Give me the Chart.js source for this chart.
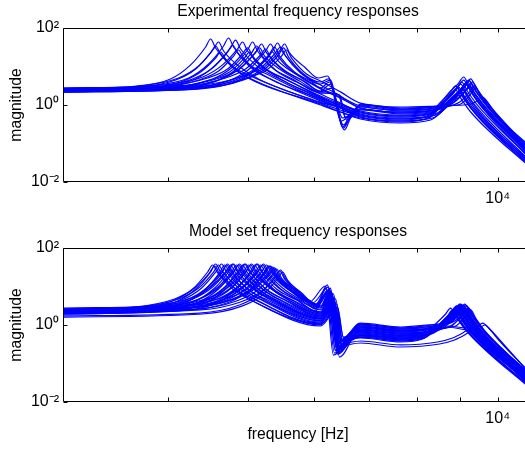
<!DOCTYPE html>
<html><head><meta charset="utf-8">
<script src="https://cdn.jsdelivr.net/npm/chart.js@4.4.0/dist/chart.umd.min.js"></script>
<style>
html,body{margin:0;padding:0;overflow:hidden;background:#fff;width:525px;height:453px;}
#c1{position:absolute;left:0;top:0;}
#c2{position:absolute;left:0;top:220px;}
</style></head><body>
<canvas id="c1" width="532" height="220"></canvas>
<canvas id="c2" width="532" height="233"></canvas>
<script>
// ---- axis settings / labels ----
const xMin = 3000, xMax = 11000;
const yMin = 0.01, yMax = 100;
const xTickValues = [4000, 5000, 6000, 7000, 8000, 9000, 10000];
const xTickLabels = {10000: '10\u2074'};
const yTickValues = [0.01, 1, 100];
const yTickLabels = {0.01: '10\u207B\u00B2', 1: '10\u2070', 100: '10\u00B2'};
const titleTop = 'Experimental frequency responses';
const titleBottom = 'Model set frequency responses';
const xTitle = 'frequency [Hz]';
const yTitle = 'magnitude';

// ---- experimental responses [Hz, magnitude] ----
const exp01 = [[3000,2.46],[3609,2.92],[4033,4.75],[4264,11.0],[4445,32.1],[4507,51.8],[4570,30.3],[4764,11.0],[5036,5.66],[6115,1.12],[6464,0.741],[6832,0.518],[7636,0.408],[8186,0.487],[8534,1.19],[8775,2.19],[8897,3.13],[9025,1.93],[9278,0.835],[11000,0.0245]];
const exp02 = [[3000,2.31],[3659,2.76],[4090,4.45],[4324,8.58],[4507,22.5],[4570,34.1],[4633,21.2],[4830,8.12],[5106,4.20],[6115,1.00],[6464,0.658],[6832,0.460],[7636,0.362],[8186,0.433],[8534,0.943],[8775,1.72],[8897,2.46],[9025,1.51],[9278,0.658],[11000,0.0218]];
const exp03 = [[3000,2.19],[3711,2.59],[4147,3.96],[4384,7.18],[4570,16.6],[4633,23.8],[4698,15.7],[4898,6.76],[5177,3.50],[6115,1.06],[6464,0.658],[6832,0.433],[7636,0.341],[8300,0.408],[8654,0.835],[8897,1.51],[9025,2.19],[9150,1.35],[9406,0.584],[11000,0.0231]];
const exp04 = [[3000,2.59],[3793,3.13],[4240,5.02],[4482,11.6],[4672,34.1],[4737,55.0],[4804,32.1],[5007,11.6],[5294,6.00],[6115,1.35],[6464,0.887],[6832,0.619],[7636,0.487],[8300,0.584],[8654,1.35],[8897,2.46],[9025,3.50],[9150,2.19],[9406,0.943],[11000,0.0313]];
const exp05 = [[3000,2.46],[3836,2.92],[4288,4.75],[4532,9.12],[4724,23.8],[4791,36.2],[4857,22.5],[5064,8.58],[5353,4.45],[6115,1.28],[6464,0.835],[6832,0.549],[7636,0.433],[8346,0.518],[8702,1.06],[8947,1.93],[9075,2.76],[9201,1.72],[9459,0.741],[11000,0.0279]];
const exp06 = [[3000,2.31],[3901,2.76],[4360,4.45],[4608,7.62],[4804,18.7],[4870,26.8],[4939,16.6],[5148,7.18],[5442,3.72],[6115,1.44],[6464,0.835],[6832,0.487],[7636,0.384],[8254,0.460],[8605,1.12],[8848,2.04],[8971,2.92],[9100,1.82],[9355,0.787],[11000,0.0260]];
const exp07 = [[3000,2.76],[3945,3.31],[4409,5.34],[4659,11.0],[4857,28.5],[4925,43.3],[4994,25.3],[5206,9.73],[5504,5.02],[6115,1.72],[6464,1.06],[6832,0.699],[7636,0.549],[8369,0.658],[8726,1.72],[8974,3.13],[9099,4.45],[9226,2.76],[9486,1.19],[11000,0.0396]];
const exp08 = [[3000,2.59],[4000,3.13],[4470,5.02],[4724,8.58],[4925,21.2],[4994,30.3],[5064,18.7],[5279,8.12],[5580,4.45],[6115,1.61],[6464,0.943],[6832,0.584],[7636,0.460],[8439,0.549],[8799,1.28],[9050,2.31],[9175,3.31],[9304,2.04],[9566,0.887],[11000,0.0353]];
const exp09 = [[3000,2.46],[4056,2.92],[4532,4.75],[4791,9.73],[4994,26.8],[5064,43.3],[5134,25.3],[5353,9.12],[5658,4.75],[6115,2.04],[6427,1.82],[6554,0.460],[6832,0.787],[7636,0.619],[8369,0.741],[8726,2.04],[8974,3.72],[9099,5.34],[9226,3.31],[9486,1.44],[11000,0.0475]];
const exp10 = [[3000,2.19],[4101,2.59],[4583,4.20],[4843,8.58],[5050,22.5],[5120,34.1],[5191,19.9],[5412,7.62],[5721,3.96],[6115,1.93],[6464,1.12],[6832,0.658],[7636,0.518],[8463,0.619],[8824,1.51],[9075,2.76],[9201,3.96],[9330,2.46],[9592,1.06],[11000,0.0420]];
const exp11 = [[3000,2.46],[4159,2.92],[4646,4.75],[4912,9.73],[5120,25.3],[5191,38.4],[5265,22.5],[5488,8.58],[5801,4.45],[6115,2.31],[6287,3.50],[6518,0.253],[6646,0.518],[6832,0.887],[7636,0.699],[8486,0.835],[8847,1.72],[9099,3.13],[9226,4.45],[9353,2.76],[9619,1.19],[11000,0.0534]];
const exp12 = [[3000,2.59],[4205,3.13],[4698,5.02],[4966,8.58],[5177,19.9],[5250,28.5],[5323,17.6],[5549,7.62],[5866,3.96],[6115,2.19],[6446,1.82],[6572,0.408],[6832,0.741],[7636,0.584],[8416,0.699],[8775,1.44],[9025,2.59],[9150,3.72],[9278,2.31],[9539,1.00],[11000,0.0445]];
const exp13 = [[3000,2.31],[4264,2.76],[4764,4.45],[5036,9.12],[5250,25.3],[5323,38.4],[5397,22.5],[5627,8.12],[5947,4.20],[6115,2.76],[6270,3.96],[6536,0.225],[6646,0.460],[6832,1.00],[7636,0.787],[8534,0.943],[8897,1.82],[9150,3.31],[9278,4.75],[9406,2.92],[9673,1.28],[11000,0.0600]];
const exp14 = [[3000,2.46],[4312,2.92],[4816,4.75],[5092,8.58],[5308,21.2],[5382,32.1],[5458,18.7],[5689,7.18],[6115,2.76],[6464,1.61],[6832,0.943],[7636,0.741],[8510,0.887],[8872,1.61],[9124,2.92],[9252,4.20],[9380,2.59],[9646,1.12],[11000,0.0566]];
const exp15 = [[3000,2.19],[4348,2.59],[4857,4.20],[5134,9.12],[5353,25.3],[5427,40.8],[5504,23.8],[5737,8.58],[6115,3.50],[6287,4.45],[6500,0.268],[6646,0.487],[6832,1.06],[7636,0.835],[8582,1.00],[8947,1.51],[9201,2.76],[9330,3.96],[9459,2.46],[9727,1.06],[11000,0.0640]];
const exp16 = [[3000,2.76],[4384,3.31],[4898,5.34],[5177,9.12],[5397,22.5],[5473,32.1],[5549,18.7],[5785,6.76],[6115,3.31],[6464,1.72],[6832,0.835],[7636,0.658],[8558,0.787],[8922,1.35],[9175,2.46],[9304,3.50],[9432,2.19],[9700,0.943],[11000,0.0502]];
const exp17 = [[3000,2.31],[4420,2.76],[4938,4.45],[5221,8.12],[5442,19.9],[5518,30.3],[5596,17.6],[5833,6.40],[6115,3.96],[6252,4.75],[6518,0.303],[6646,0.584],[6832,0.943],[7636,0.741],[8630,0.887],[9000,1.19],[9252,2.19],[9380,3.13],[9512,1.93],[9781,0.835],[11000,0.0640]];
const exp18 = [[3000,2.59],[4457,3.13],[4980,5.02],[5265,8.12],[5488,18.7],[5564,26.8],[5643,16.6],[5882,6.40],[6115,4.20],[6464,2.19],[6832,1.12],[7636,0.887],[8534,0.943],[9278,1.06],[9486,1.35],[9592,1.61],[9700,1.28],[9973,0.549],[11000,0.0762]];
const exp19 = [[3000,2.59],[3690,3.13],[4124,5.02],[4360,10.3],[4544,28.5],[4607,43.3],[4672,25.3],[4871,10.3],[5148,4.75],[6115,1.19],[6464,0.835],[6832,0.549],[7636,0.433],[8232,0.518],[8582,1.06],[8824,1.93],[8947,2.76],[9075,1.72],[9330,0.741],[11000,0.0279]];
const exp20 = [[3000,2.46],[3869,2.92],[4324,4.75],[4570,11.0],[4764,30.3],[4830,48.7],[4898,28.5],[5106,11.0],[5397,5.34],[6115,1.51],[6464,1.00],[6832,0.658],[7636,0.518],[8323,0.619],[8678,1.51],[8922,2.76],[9050,3.96],[9175,2.46],[9432,1.06],[11000,0.0372]];
const exp21 = [[3000,2.31],[4022,2.76],[4494,4.45],[4751,7.18],[4952,16.6],[5022,23.8],[5092,14.7],[5308,7.18],[5611,3.50],[6115,1.61],[6464,0.887],[6832,0.487],[7636,0.384],[8346,0.460],[8702,0.943],[8947,1.72],[9075,2.46],[9201,1.51],[9459,0.658],[11000,0.0313]];
const exp22 = [[3000,2.59],[4135,3.13],[4620,5.02],[4884,8.58],[5092,21.2],[5163,30.3],[5235,18.7],[5458,8.58],[5769,4.20],[6115,2.19],[6305,2.76],[6500,0.460],[6832,0.787],[7636,0.619],[8439,0.741],[8799,1.35],[9050,2.46],[9175,3.50],[9304,2.19],[9566,0.943],[11000,0.0502]];
const exp23 = [[3000,2.19],[4288,2.59],[4791,4.20],[5064,7.18],[5279,16.6],[5353,23.8],[5427,14.7],[5658,7.18],[6115,2.59],[6464,1.51],[6832,0.835],[7636,0.658],[8510,0.787],[8872,1.19],[9124,2.19],[9252,3.13],[9380,1.93],[9646,0.835],[11000,0.0534]];
const exp24 = [[3000,2.46],[4433,2.92],[4952,4.75],[5235,9.73],[5458,25.3],[5534,38.4],[5611,22.5],[5850,9.73],[6081,5.02],[6235,5.66],[6482,0.384],[6646,0.584],[6832,1.00],[7636,0.787],[8654,0.943],[9025,1.06],[9278,1.93],[9406,2.76],[9539,1.72],[9808,0.741],[11000,0.0676]];

// ---- model set responses [Hz, magnitude] ----
const mod01 = [[3000,2.19],[3629,2.59],[4056,4.20],[4288,8.58],[4470,23.8],[4532,36.2],[4596,22.5],[4791,8.58],[5064,4.20],[6115,0.943],[6392,2.46],[6500,0.408],[6832,0.460],[7636,0.362],[8118,0.433],[8463,0.943],[8702,1.72],[8824,2.46],[8947,1.51],[9201,0.658],[11000,0.0205]];
const mod02 = [[3000,2.04],[3659,2.46],[4090,3.96],[4324,8.58],[4507,23.8],[4570,38.4],[4633,23.8],[4830,8.58],[5106,4.45],[6115,1.00],[6356,2.76],[6482,0.321],[6832,0.487],[7636,0.384],[8163,0.460],[8510,1.00],[8751,1.82],[8872,2.59],[9000,1.61],[9252,0.699],[11000,0.0218]];
const mod03 = [[3000,2.46],[3690,2.92],[4124,4.75],[4359,9.12],[4544,23.8],[4607,36.2],[4672,22.5],[4871,9.12],[5148,4.20],[6115,1.06],[6410,2.92],[6518,0.460],[6832,0.518],[7636,0.408],[8073,0.487],[8416,1.06],[8654,1.93],[8775,2.76],[8897,1.72],[9150,0.741],[11000,0.0231]];
const mod04 = [[3000,2.31],[3721,2.76],[4159,4.45],[4396,9.12],[4583,25.3],[4646,38.4],[4711,23.8],[4912,9.12],[5191,4.45],[6115,1.12],[6338,3.50],[6464,0.285],[6832,0.549],[7636,0.433],[8186,0.518],[8534,1.12],[8775,2.04],[8897,2.92],[9025,1.82],[9278,0.787],[11000,0.0245]];
const mod05 = [[3000,1.93],[3751,2.31],[4193,3.72],[4433,8.12],[4620,22.5],[4685,36.2],[4751,22.5],[4952,8.12],[5235,4.20],[6115,1.19],[6374,3.13],[6500,0.384],[6832,0.487],[7636,0.384],[8140,0.460],[8486,0.943],[8726,1.72],[8847,2.46],[8971,1.51],[9226,0.658],[11000,0.0231]];
const mod06 = [[3000,2.19],[3783,2.59],[4229,4.20],[4470,8.58],[4659,23.8],[4724,38.4],[4791,23.8],[4994,8.58],[5279,4.45],[6115,1.28],[6322,3.96],[6446,0.225],[6832,0.584],[7636,0.460],[8209,0.549],[8558,1.19],[8799,2.19],[8922,3.13],[9050,1.93],[9304,0.835],[11000,0.0279]];
const mod07 = [[3000,2.59],[3815,3.13],[4264,5.02],[4507,9.73],[4698,23.8],[4764,36.2],[4830,22.5],[5036,9.73],[5323,4.45],[6115,1.35],[6392,3.50],[6518,0.487],[6832,0.619],[7636,0.487],[8254,0.584],[8605,1.12],[8848,2.04],[8971,2.92],[9100,1.82],[9355,0.787],[11000,0.0296]];
const mod08 = [[3000,2.04],[3847,2.46],[4300,3.96],[4544,8.58],[4737,23.8],[4803,38.4],[4871,23.8],[5077,8.58],[5367,4.45],[6115,1.44],[6305,4.45],[6428,0.253],[6832,0.549],[7636,0.433],[8186,0.518],[8534,1.06],[8775,1.93],[8897,2.76],[9025,1.72],[9278,0.741],[11000,0.0260]];
const mod09 = [[3000,2.31],[3880,2.76],[4336,4.45],[4583,9.12],[4777,23.8],[4843,36.2],[4912,22.5],[5120,9.12],[5412,4.20],[6115,1.51],[6356,4.20],[6482,0.362],[6832,0.658],[7636,0.518],[8300,0.619],[8654,1.28],[8897,2.31],[9025,3.31],[9150,2.04],[9406,0.887],[11000,0.0313]];
const mod10 = [[3000,2.46],[3912,2.92],[4372,4.75],[4620,9.73],[4816,25.3],[4884,38.4],[4952,23.8],[5163,9.73],[5458,4.45],[6115,1.61],[6287,5.02],[6428,0.199],[6832,0.699],[7636,0.549],[8232,0.658],[8582,1.19],[8824,2.19],[8947,3.13],[9075,1.93],[9330,0.835],[11000,0.0331]];
const mod11 = [[3000,2.19],[3945,2.59],[4409,4.20],[4659,8.58],[4857,23.8],[4925,36.2],[4994,22.5],[5206,8.58],[5504,4.20],[6115,1.72],[6338,5.02],[6464,0.303],[6832,0.619],[7636,0.487],[8323,0.584],[8678,1.12],[8922,2.04],[9050,2.92],[9175,1.82],[9432,0.787],[11000,0.0296]];
const mod12 = [[3000,1.93],[3977,2.31],[4445,3.72],[4698,8.58],[4898,23.8],[4966,38.4],[5036,23.8],[5250,8.58],[5549,4.45],[6115,1.82],[6270,6.00],[6410,0.176],[6832,0.741],[7636,0.584],[8277,0.699],[8630,1.35],[8872,2.46],[9000,3.50],[9124,2.19],[9380,0.943],[11000,0.0353]];
const mod13 = [[3000,2.59],[4010,3.13],[4482,5.02],[4737,9.73],[4938,23.8],[5007,36.2],[5077,22.5],[5294,9.73],[5596,4.45],[6115,1.93],[6322,5.66],[6446,0.268],[6832,0.787],[7636,0.619],[8346,0.741],[8702,1.28],[8947,2.31],[9075,3.31],[9201,2.04],[9459,0.887],[11000,0.0372]];
const mod14 = [[3000,2.31],[4044,2.76],[4520,4.45],[4777,9.12],[4980,25.3],[5050,38.4],[5120,23.8],[5338,9.12],[5643,4.45],[6115,2.04],[6305,6.40],[6446,0.147],[6832,0.835],[7636,0.658],[8300,0.787],[8654,1.35],[8897,2.46],[9025,3.50],[9150,2.19],[9406,0.943],[11000,0.0396]];
const mod15 = [[3000,2.04],[4079,2.46],[4557,3.96],[4816,8.12],[5022,22.5],[5092,36.2],[5163,22.5],[5382,8.12],[5689,4.20],[6115,2.19],[6305,6.76],[6446,0.238],[6832,0.741],[7636,0.584],[8369,0.699],[8726,1.19],[8974,2.19],[9099,3.13],[9226,1.93],[9486,0.835],[11000,0.0372]];
const mod16 = [[3000,2.46],[4113,2.92],[4596,4.75],[4857,9.73],[5064,25.3],[5134,38.4],[5206,23.8],[5427,9.73],[5737,4.45],[6031,2.31],[6235,8.12],[6374,0.212],[6832,0.887],[7636,0.699],[8323,0.835],[8678,1.28],[8922,2.31],[9050,3.31],[9175,2.04],[9432,0.887],[11000,0.0420]];
const mod17 = [[3000,2.19],[4147,2.59],[4633,4.20],[4898,8.58],[5106,23.8],[5177,36.2],[5250,22.5],[5473,8.58],[5785,4.20],[6115,2.46],[6287,7.62],[6428,0.285],[6832,0.943],[7636,0.741],[8392,0.887],[8751,1.35],[9000,2.46],[9124,3.50],[9252,2.19],[9512,0.943],[11000,0.0445]];
const mod18 = [[3000,2.76],[4181,3.31],[4672,5.34],[4938,10.3],[5148,25.3],[5221,38.4],[5294,23.8],[5518,10.3],[5833,4.75],[6031,2.59],[6217,9.12],[6356,0.187],[6832,1.00],[7636,0.787],[8346,0.943],[8702,1.19],[8947,2.19],[9075,3.13],[9201,1.93],[9459,0.835],[11000,0.0420]];
const mod19 = [[3000,2.31],[4217,2.76],[4711,4.45],[4980,9.12],[5191,23.8],[5265,36.2],[5338,22.5],[5564,9.12],[5882,4.20],[6115,2.76],[6270,8.58],[6410,0.253],[6832,0.887],[7636,0.699],[8416,0.835],[8775,1.28],[9025,2.31],[9150,3.31],[9278,2.04],[9539,0.887],[11000,0.0445]];
const mod20 = [[3000,2.04],[4252,2.46],[4751,3.96],[5022,8.12],[5235,22.5],[5308,34.1],[5382,21.2],[5611,8.12],[5930,3.96],[6200,10.3],[6338,0.166],[6832,1.06],[7636,0.835],[8369,1.00],[8726,1.12],[8974,2.04],[9099,2.92],[9226,1.82],[9486,0.787],[11000,0.0475]];
const mod21 = [[3000,2.46],[4288,2.92],[4791,4.75],[5064,8.58],[5279,21.2],[5353,32.1],[5427,18.7],[5658,8.58],[5980,3.72],[6252,9.73],[6392,0.321],[6832,0.943],[7636,0.741],[8439,0.887],[8799,1.19],[9050,2.19],[9175,3.13],[9304,1.93],[9566,0.835],[11000,0.0445]];
const mod22 = [[3000,2.19],[4336,2.59],[4843,4.20],[5120,7.62],[5338,18.7],[5412,28.5],[5488,16.6],[5721,7.62],[6031,3.31],[6235,11.0],[6374,0.225],[6832,1.12],[7636,0.887],[8463,1.06],[8824,1.19],[9075,1.93],[9201,2.76],[9330,1.72],[9592,0.741],[11000,0.0475]];
const mod23 = [[3000,1.72],[4372,2.04],[4884,3.31],[5163,6.40],[5382,16.6],[5458,25.3],[5534,15.7],[5769,6.40],[6031,2.92],[6235,7.18],[6464,0.321],[6832,0.384],[7636,0.303],[8463,0.362],[8824,0.460],[9075,0.619],[9201,0.741],[9330,0.584],[9592,0.362],[11000,0.0279]];
const mod24 = [[3000,1.61],[4409,1.93],[4925,3.13],[5206,6.00],[5427,15.7],[5504,23.8],[5580,14.7],[5817,6.00],[6031,3.13],[6217,6.40],[6446,0.285],[6832,0.341],[7636,0.268],[8510,0.321],[8872,0.408],[9124,0.549],[9252,0.658],[9380,0.518],[9646,0.321],[11000,0.0245]];
const mod25 = [[3000,2.46],[4312,2.92],[4816,4.75],[5092,8.58],[5308,21.2],[5382,30.3],[5458,17.6],[5689,8.58],[6115,3.13],[6287,8.12],[6428,0.362],[6832,1.06],[7636,0.835],[8654,0.943],[9226,0.835],[9432,0.887],[9592,1.12],[9753,0.835],[10028,0.408],[11000,0.0502]];
const mod26 = [[3000,2.31],[4264,2.76],[4764,4.45],[5036,8.58],[5250,22.5],[5323,34.1],[5397,21.2],[5627,8.58],[5947,4.20],[6115,2.92],[6305,7.18],[6464,0.408],[6832,1.00],[7636,0.787],[8654,0.887],[9278,0.741],[9486,0.787],[9646,1.00],[9808,0.741],[10084,0.384],[11000,0.0475]];
const mod27 = [[3000,2.46],[3649,2.92],[4079,4.75],[4312,9.12],[4494,22.5],[4557,34.1],[4620,21.2],[4816,9.12],[5092,3.96],[6115,1.06],[6322,4.45],[6446,0.285],[6832,0.584],[7636,0.460],[8232,0.549],[8582,1.06],[8824,1.93],[8947,2.76],[9075,1.72],[9330,0.741],[11000,0.0260]];
const mod28 = [[3000,2.31],[3772,2.76],[4217,4.45],[4457,9.12],[4646,23.8],[4711,36.2],[4777,22.5],[4980,9.12],[5265,4.20],[6115,1.28],[6356,3.96],[6482,0.362],[6832,0.658],[7636,0.518],[8277,0.619],[8630,1.19],[8872,2.19],[9000,3.13],[9124,1.93],[9380,0.835],[11000,0.0296]];
const mod29 = [[3000,2.04],[3901,2.46],[4360,3.96],[4608,8.58],[4804,23.8],[4870,36.2],[4939,22.5],[5148,8.58],[5442,4.20],[6115,1.51],[6305,5.66],[6428,0.225],[6832,0.741],[7636,0.584],[8323,0.699],[8678,1.06],[8922,1.93],[9050,2.76],[9175,1.72],[9432,0.741],[11000,0.0331]];
const mod30 = [[3000,2.46],[4033,2.92],[4507,4.75],[4764,9.12],[4966,23.8],[5036,36.2],[5106,22.5],[5323,9.12],[5627,4.20],[6115,1.93],[6338,6.40],[6464,0.321],[6832,0.699],[7636,0.549],[8392,0.658],[8751,1.12],[9000,2.04],[9124,2.92],[9252,1.82],[9512,0.787],[11000,0.0372]];
const mod31 = [[3000,2.31],[4170,2.76],[4659,4.45],[4925,9.12],[5134,23.8],[5206,36.2],[5279,22.5],[5504,9.12],[5817,4.20],[6031,2.76],[6252,8.12],[6392,0.253],[6832,0.835],[7636,0.658],[8439,0.787],[8799,0.943],[9050,1.82],[9175,2.59],[9304,1.61],[9566,0.699],[11000,0.0420]];
const mod32 = [[3000,2.59],[4240,3.13],[4737,5.02],[5007,9.12],[5221,22.5],[5294,34.1],[5367,21.2],[5596,9.12],[5914,4.45],[6081,3.31],[6287,9.12],[6410,0.362],[6832,0.787],[7636,0.619],[8486,0.741],[8848,1.06],[9099,1.93],[9226,2.76],[9353,1.72],[9619,0.741],[11000,0.0445]];
const mod33 = [[3000,2.19],[3966,2.59],[4433,4.20],[4685,9.12],[4884,25.3],[4952,38.4],[5022,23.8],[5235,9.12],[5534,4.45],[6115,1.72],[6374,4.75],[6500,0.408],[6832,0.549],[7636,0.433],[8209,0.518],[8558,0.943],[8799,1.72],[8922,2.46],[9050,1.51],[9304,0.658],[11000,0.0313]];
const mod34 = [[3000,1.93],[4101,2.31],[4583,3.72],[4843,8.58],[5050,23.8],[5120,38.4],[5191,23.8],[5412,8.58],[5721,4.45],[6115,2.04],[6270,7.18],[6410,0.187],[6832,0.658],[7636,0.518],[8254,0.619],[8605,1.19],[8848,2.19],[8971,3.13],[9100,1.93],[9355,0.835],[11000,0.0353]];
const mod35 = [[3000,2.46],[3836,2.92],[4288,4.75],[4532,9.73],[4724,25.3],[4791,38.4],[4857,23.8],[5064,9.73],[5353,4.45],[6115,1.44],[6287,5.02],[6410,0.238],[6832,0.518],[7636,0.408],[8163,0.487],[8510,1.00],[8751,1.82],[8872,2.59],[9000,1.61],[9252,0.699],[11000,0.0279]];
const mod36 = [[3000,2.04],[4384,2.46],[4898,3.96],[5177,7.18],[5397,17.6],[5473,26.8],[5549,15.7],[5785,7.18],[6031,3.50],[6270,8.12],[6428,0.384],[6832,0.887],[7636,0.699],[8534,0.835],[8897,0.943],[9150,1.72],[9278,2.46],[9406,1.51],[9673,0.658],[11000,0.0475]];

const expSeries = [exp01,exp02,exp03,exp04,exp05,exp06,exp07,exp08,exp09,exp10,exp11,exp12,exp13,exp14,exp15,exp16,exp17,exp18,exp19,exp20,exp21,exp22,exp23,exp24];
const modSeries = [mod01,mod02,mod03,mod04,mod05,mod06,mod07,mod08,mod09,mod10,mod11,mod12,mod13,mod14,mod15,mod16,mod17,mod18,mod19,mod20,mod21,mod22,mod23,mod24,mod25,mod26,mod27,mod28,mod29,mod30,mod31,mod32,mod33,mod34,mod35,mod36];

// ---- drawing ----
const FONT = "'Liberation Sans', Arial, Helvetica, sans-serif";
const LINE_COLOR = 'rgb(0,0,255)';
const TEXT_SIZE = 15.7;

const axesBox = {
  id: 'axesBox',
  afterDraw(chart) {
    const {ctx, chartArea: a} = chart;
    const xs = chart.scales.x, ys = chart.scales.y;
    const L = a.left - 0.5, T = a.top + 0.5, B = a.bottom - 0.5, R = a.right + 0.5;
    ctx.save();
    ctx.strokeStyle = '#000';
    ctx.lineWidth = 1;
    ctx.beginPath();
    ctx.moveTo(R, T); ctx.lineTo(L, T); ctx.lineTo(L, B); ctx.lineTo(R, B); ctx.lineTo(R, T);
    xTickValues.forEach(v => {
      const px = Math.round(xs.getPixelForValue(v)) + 0.5;
      ctx.moveTo(px, B); ctx.lineTo(px, B - 4);
      ctx.moveTo(px, T); ctx.lineTo(px, T + 4);
    });
    yTickValues.forEach(v => {
      const py = Math.round(ys.getPixelForValue(v)) + 0.5;
      ctx.moveTo(L, py); ctx.lineTo(L + 4, py);
      ctx.moveTo(R, py); ctx.lineTo(R - 4, py);
    });
    ctx.stroke();
    ctx.restore();
  }
};

function makeChart(id, series, title, showXTitle, xAxisHeight) {
  return new Chart(document.getElementById(id), {
    type: 'line',
    data: {
      datasets: series.map(s => ({
        data: s, borderColor: LINE_COLOR, borderWidth: 1.2, pointRadius: 0,
        fill: false, cubicInterpolationMode: 'monotone'
      }))
    },
    options: {
      responsive: false, animation: false, events: [],
      devicePixelRatio: 1,
      layout: {padding: 0},
      plugins: {
        legend: {display: false},
        tooltip: {enabled: false},
        title: {
          display: true, text: title, fullSize: false, color: '#000',
          font: {family: FONT, size: TEXT_SIZE, weight: 'normal'},
          padding: {top: 2.6, bottom: 6.56}
        }
      },
      scales: {
        x: {
          type: 'logarithmic', min: xMin, max: xMax, position: 'bottom',
          afterBuildTicks: s => { s.ticks = xTickValues.map(v => ({value: v})); },
          afterFit: s => { s.height = xAxisHeight; },
          grid: {display: false, drawTicks: false},
          border: {display: false},
          ticks: {
            autoSkip: false, maxRotation: 0, minRotation: 0, padding: 7.4, color: '#000',
            font: {family: FONT, size: 16},
            callback: v => xTickLabels[v] || ''
          },
          title: {
            display: showXTitle, text: xTitle, color: '#000',
            font: {family: FONT, size: TEXT_SIZE},
            padding: {top: 0, bottom: 9.3}
          }
        },
        y: {
          type: 'logarithmic', min: yMin, max: yMax,
          afterBuildTicks: s => { s.ticks = yTickValues.map(v => ({value: v})); },
          afterFit: s => { s.width = 64; },
          grid: {display: false, drawTicks: false},
          border: {display: false},
          ticks: {
            padding: 5, color: '#000',
            font: {family: FONT, size: 16},
            callback: v => yTickLabels[v] || ''
          },
          title: {
            display: true, text: yTitle, color: '#000',
            font: {family: FONT, size: TEXT_SIZE},
            padding: {top: 7.2, bottom: 0}
          }
        }
      }
    },
    plugins: [axesBox]
  });
}

makeChart('c1', expSeries, titleTop, false, 38);
makeChart('c2', modSeries, titleBottom, true, 51);
</script>
</body></html>
